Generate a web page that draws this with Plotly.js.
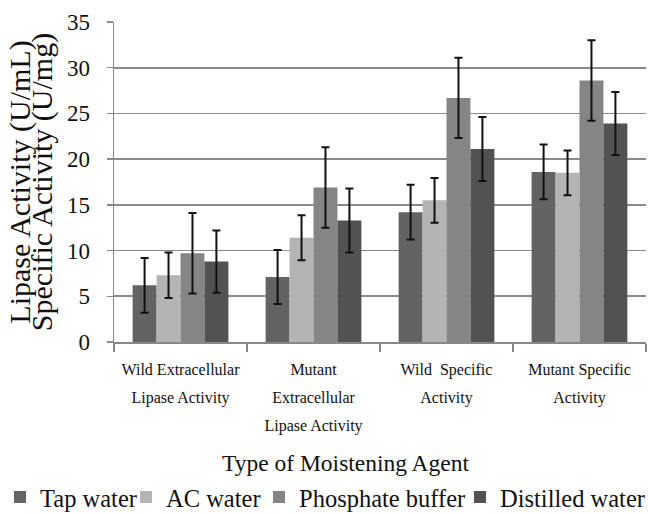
<!DOCTYPE html>
<html>
<head>
<meta charset="utf-8">
<script src="https://cdn.plot.ly/plotly-3.0.1.min.js"></script>
<style>html,body{margin:0;padding:0;background:#fff;}#chart{width:648px;height:514px;}</style>
</head>
<body>
<div id="chart"></div>
<script>
const categories = ["Wild Extracellular<br>Lipase Activity", "Mutant<br>Extracellular<br>Lipase Activity", "Wild  Specific<br>Activity", "Mutant Specific<br>Activity"];
const seriesNames = ["Tap water", "AC water", "Phosphate buffer", "Distilled water"];
const tapWater = [6.2, 7.1, 14.2, 18.6];
const acWater = [7.3, 11.4, 15.5, 18.5];
const phosphateBuffer = [9.7, 16.9, 26.7, 28.6];
const distilledWater = [8.8, 13.3, 21.1, 23.9];
const tapErr = [3.0, 2.95, 3.0, 3.0];
const acErr = [2.5, 2.45, 2.45, 2.45];
const phosErr = [4.4, 4.4, 4.4, 4.4];
const distErr = [3.4, 3.5, 3.5, 3.45];
const colors = ["#636363", "#b4b4b4", "#858585", "#525252"];
const yTitleLines = ["Lipase Activity (U/mL)", "Specific Activity (U/mg)"];
const xTitle = "Type of Moistening Agent";

const FONT = "'Liberation Serif', 'Times New Roman', Times, serif";
const values = [tapWater, acWater, phosphateBuffer, distilledWater];
const errs = [tapErr, acErr, phosErr, distErr];
const legendIds = ["legend", "legend2", "legend3", "legend4"];
const legendX = [-3, 126, 259, 460];

const span = (t, s) => "<span style='font-size:" + s + "px'>" + t + "</span>";
const tickText = categories.map(c => c.split("<br>").map(l => span(l, 16)).join("<br>"));

const traces = seriesNames.map((name, i) => ({
  type: "bar",
  name: name,
  x: categories,
  y: values[i],
  legend: legendIds[i],
  marker: {color: colors[i], line: {width: 0}},
  error_y: {type: "data", array: errs[i], visible: true, color: "#111", thickness: 2, width: 4}
}));

const layout = {
  width: 648, height: 514,
  margin: {l: 114, r: 2, t: 22, b: 172},
  paper_bgcolor: "#fff", plot_bgcolor: "#fff",
  barmode: "group", bargap: 0.28, bargroupgap: 0,
  font: {family: FONT, color: "#111"},
  xaxis: {
    tickvals: categories, ticktext: tickText,
    tickfont: {size: 21.5, family: FONT, color: "#111"},
    showline: true, linecolor: "#888", linewidth: 1.5,
    ticks: "outside", tickson: "boundaries", ticklen: 8, tickcolor: "#888", tickwidth: 1.5,
    ticklabelstandoff: 6,
    showgrid: false, tickangle: 0
  },
  yaxis: {
    range: [0, 35], dtick: 5,
    tickfont: {size: 23, family: FONT, color: "#111"},
    showline: true, linecolor: "#888", linewidth: 1.5,
    ticks: "outside", ticklen: 6, tickcolor: "#888", tickwidth: 1.5,
    ticklabelstandoff: 12,
    showgrid: true, gridcolor: "#8a8a8a", gridwidth: 1.8,
    zeroline: false,
    title: {text: yTitleLines.map(l => span(l, 30)).join("<br>"), font: {size: 17, family: FONT, color: "#111"}, standoff: 10}
  },
  annotations: [{
    text: xTitle, xref: "paper", yref: "paper",
    x: 0.436, y: -0.377, xanchor: "center", yanchor: "middle", showarrow: false,
    font: {size: 23.5, family: FONT, color: "#111"}
  }],
  showlegend: true
};
legendIds.forEach((id, i) => {
  layout[id] = {
    orientation: "h", x: legendX[i] / 648, xanchor: "left", xref: "container",
    y: 0.033, yanchor: "middle", yref: "container",
    font: {size: 24.5, family: FONT, color: "#111"},
    itemwidth: 30, bgcolor: "rgba(0,0,0,0)"
  };
});

Plotly.newPlot("chart", traces, layout, {displayModeBar: false, staticPlot: true});
</script>
</body>
</html>
